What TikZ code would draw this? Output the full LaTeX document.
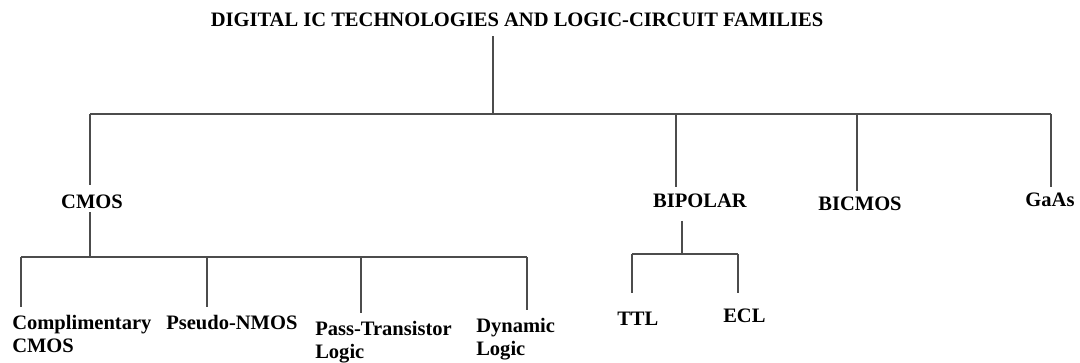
\documentclass[tikz,border=0pt]{standalone}
\usepackage{fontspec}
\setmainfont{Liberation Serif}
\tikzset{
  lbl/.style={font=\bfseries\fontsize{15.4}{17.5}\selectfont, inner sep=0pt},
  wire/.style={draw=black!70, line width=1.2pt},
}
\begin{document}
\begin{tikzpicture}[x=0.75pt,y=-0.75pt]
\useasboundingbox (0,0) rectangle (1080,362);
\node[lbl,anchor=base] (title) at (517,26) {DIGITAL IC TECHNOLOGIES AND LOGIC-CIRCUIT FAMILIES};
\coordinate (root) at (493,114);
\draw[wire,shorten <=7.5pt] (root |- title.south) -- (root);
% technologies
\foreach \n/\x/\lx/\ly/\s/\t in {cmos/90/92/208/7/CMOS, bipolar/676/700/207/4.8/BIPOLAR, bicmos/857/860/210/4/BICMOS, gaas/1051/1050/206/4/GaAs} {
  \node[lbl,anchor=base] (\n) at (\lx,\ly) {\t};
  \coordinate (bar-\n) at (\x,114);
  \draw[wire,shorten >=\s pt] (bar-\n) -- (bar-\n |- \n.north);
}
\draw[wire] (bar-cmos) -- (bar-gaas);
% CMOS families
\coordinate (cmos-hub) at (90,257);
\coordinate (cmos-l) at (21,257); \coordinate (cmos-r) at (527,257);
\draw[wire,shorten <=3pt] (cmos-hub |- cmos.south) -- (cmos-hub);
\draw[wire] (cmos-l) -- (cmos-r);
\foreach \n/\x/\lx/\ly/\t in {compl/21/12/315/{Complimentary\\CMOS}, pseudo/207/166/315/{Pseudo-NMOS}, pass/361/315/321/{Pass-Transistor\\Logic}, dynamic/527/476/318/{Dynamic\\Logic}} {
  \node[lbl,anchor=north west,align=left] (\n) at (\lx,\ly) {\t};
  \draw[wire,shorten >=6pt] (\x,257) coordinate (hub-\n) -- (hub-\n |- \n.north);
}
% bipolar families
\coordinate (bip-hub) at (682,254);
\coordinate (bip-l) at (632,254); \coordinate (bip-r) at (738,254);
\draw[wire,shorten <=10pt] (bip-hub |- bipolar.south) -- (bip-hub);
\draw[wire] (bip-l) -- (bip-r);
\node[lbl,anchor=base west] (ttl) at (617,325) {TTL};
\node[lbl,anchor=base west] (ecl) at (723,322) {ECL};
\draw[wire,shorten >=13.5pt] (bip-l) -- (bip-l |- ttl.north);
\draw[wire,shorten >=11pt] (bip-r) -- (bip-r |- ecl.north);
\end{tikzpicture}
\end{document}
